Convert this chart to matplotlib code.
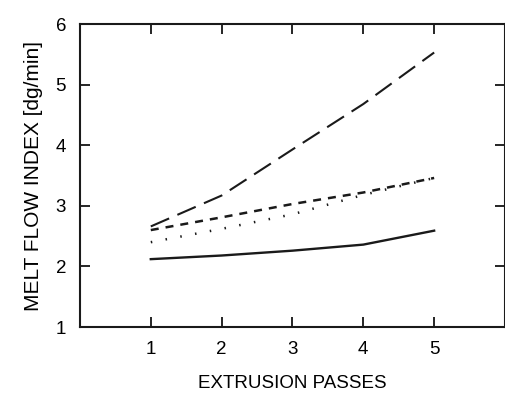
import matplotlib.pyplot as plt

plt.rcParams['font.family'] = ['Liberation Sans', 'DejaVu Sans']
plt.rcParams['lines.scale_dashes'] = False

passes = [1, 2, 3, 4, 5]
mfi_long = [2.66, 3.17, 3.93, 4.68, 5.53]   # long dashes
mfi_short = [2.60, 2.81, 3.03, 3.22, 3.46]  # short dashes
mfi_dot = [2.40, 2.62, 2.86, 3.18, 3.46]    # dotted
mfi_solid = [2.12, 2.18, 2.26, 2.36, 2.59]  # solid

px = 0.72  # points per pixel at dpi 100

fig = plt.figure(figsize=(5.06, 3.94), dpi=100)
ax = fig.add_axes([0.158, 0.170, 0.840, 0.769])

k = '#1a1a1a'
ax.plot(passes, mfi_long, color=k, lw=1.5, dashes=(20*px, 9*px))
ax.plot(passes, mfi_short, color=k, lw=1.8, dashes=(8*px, 7*px))
ax.plot(passes, mfi_dot, color=k, lw=1.8, dashes=(1.5*px, 13.5*px))
ax.plot(passes, mfi_solid, color=k, lw=1.7)

ax.set_xlim(0, 6)
ax.set_ylim(1, 6)
ax.set_xticks(passes)
ax.set_yticks([1, 2, 3, 4, 5, 6])
ax.tick_params(direction='in', length=7, width=1.2, top=True, right=True,
               labelsize=13.5, pad=10)
ax.tick_params(axis='y', pad=10)
for s in ax.spines.values():
    s.set_linewidth(1.5)
    s.set_color(k)

ax.set_xlabel('EXTRUSION PASSES', fontsize=13.5, labelpad=12)
ax.set_ylabel('MELT FLOW INDEX [dg/min]', fontsize=15, labelpad=9)

fig.savefig('out.png', dpi=100)
